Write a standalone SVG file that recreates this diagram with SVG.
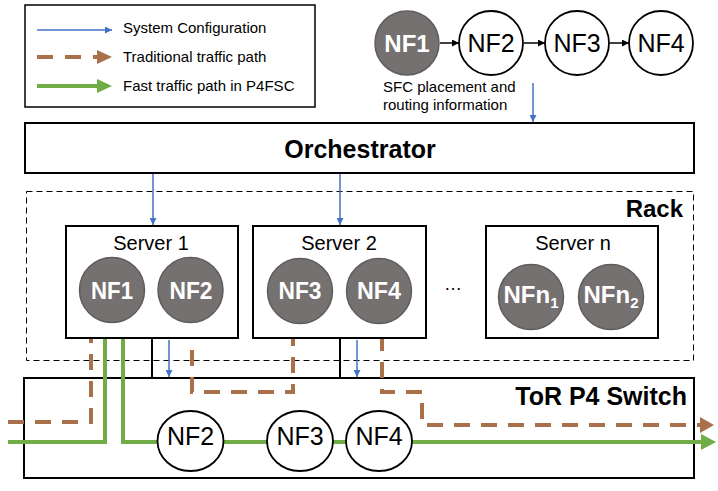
<svg xmlns="http://www.w3.org/2000/svg" width="718" height="491" viewBox="0 0 718 491">
<style>
text{font-family:"Liberation Sans",Arial,sans-serif;}
.box{fill:#fff;stroke:#000;stroke-width:2;}
.wc{fill:#fff;stroke:#000;stroke-width:1.8;}
.gc{fill:#767171;stroke:#5f5c5c;stroke-width:1.5;}
.wt{fill:#fff;font-weight:bold;font-size:24px;text-anchor:middle;}
.bt{fill:#000;font-size:25px;text-anchor:middle;}
.lg{font-size:15px;fill:#000;}
.blue{stroke:#4472C4;stroke-width:1.5;fill:none;marker-end:url(#ab);}
.blk{stroke:#000;stroke-width:1.5;fill:none;marker-end:url(#ak);}
.brown{stroke:#A9714B;stroke-width:4;fill:none;stroke-dasharray:16 11;}
.green{stroke:#70AD47;stroke-width:4;fill:none;}
</style>
<defs>
<marker id="ab" viewBox="0 0 10 10" refX="10" refY="5" markerUnits="userSpaceOnUse" markerWidth="7" markerHeight="7" orient="auto"><path d="M0,0 L10,5 L0,10 z" fill="#4472C4"/></marker>
<marker id="ak" viewBox="0 0 10 10" refX="10" refY="5" markerUnits="userSpaceOnUse" markerWidth="7" markerHeight="7" orient="auto"><path d="M0,0 L10,5 L0,10 z" fill="#000"/></marker>
</defs>

<g id="legend">
<rect x="25" y="5" width="290" height="102" fill="#fff" stroke="#000" stroke-width="1.5"/>
<line x1="37" y1="30" x2="112" y2="30" class="blue"/>
<line x1="37" y1="57" x2="100" y2="57" stroke="#A9714B" stroke-width="4" stroke-dasharray="16 12"/>
<path d="M97,50 L112,57 L97,64 z" fill="#A9714B"/>
<line x1="37" y1="86" x2="100" y2="86" stroke="#70AD47" stroke-width="4"/>
<path d="M97,79 L112,86 L97,93 z" fill="#70AD47"/>
<text class="lg" x="123" y="33">System Configuration</text>
<text class="lg" x="123" y="62">Traditional traffic path</text>
<text class="lg" x="123" y="91">Fast traffic path in P4FSC</text>
</g>

<g id="chain">
<circle cx="407" cy="43" r="32" class="gc"/>
<text x="407" y="52" class="wt" font-size="25">NF1</text>
<circle cx="491" cy="43" r="32" class="wc"/>
<text x="491" y="52" class="bt" font-size="27">NF2</text>
<circle cx="577" cy="43" r="32" class="wc"/>
<text x="577" y="52" class="bt" font-size="27">NF3</text>
<circle cx="661" cy="43" r="32" class="wc"/>
<text x="661" y="52" class="bt" font-size="27">NF4</text>
<line x1="440" y1="43" x2="459" y2="43" class="blk"/>
<line x1="524" y1="43" x2="545" y2="43" class="blk"/>
<line x1="610" y1="43" x2="629" y2="43" class="blk"/>
<text class="lg" x="383" y="92">SFC placement and</text>
<text class="lg" x="383" y="110">routing information</text>
</g>

<g id="orchestrator">
<rect x="25" y="123" width="669" height="50" class="box"/>
<text x="360" y="158" font-size="25" font-weight="bold" text-anchor="middle">Orchestrator</text>
</g>

<g id="rack">
<rect x="26.5" y="191.5" width="667" height="169" fill="none" stroke="#000" stroke-width="1" stroke-dasharray="6 4"/>
<text x="683" y="217" font-size="24" font-weight="bold" text-anchor="end">Rack</text>
<text x="453" y="290" font-size="18" text-anchor="middle">…</text>
</g>

<g id="switch">
<rect x="24" y="378" width="670" height="100" class="box"/>
<text x="687" y="405" font-size="25" font-weight="bold" text-anchor="end">ToR P4 Switch</text>
</g>

<g id="connectors">
<line x1="152" y1="338" x2="152" y2="378" stroke="#000" stroke-width="2"/>
<line x1="340" y1="338" x2="340" y2="378" stroke="#000" stroke-width="2"/>
<line x1="533" y1="83" x2="533" y2="122" class="blue"/>
<line x1="153" y1="174" x2="153" y2="225" class="blue"/>
<line x1="340" y1="174" x2="340" y2="225" class="blue"/>
<line x1="169" y1="340" x2="169" y2="377" class="blue"/>
<line x1="357" y1="340" x2="357" y2="377" class="blue"/>
<path d="M8,422 H91 V322" class="brown"/>
<line x1="145" y1="297" x2="157" y2="297" stroke="#A9714B" stroke-width="4"/>
<path d="M192,323 V392 H293 V324" class="brown"/>
<line x1="333" y1="297" x2="346" y2="297" stroke="#A9714B" stroke-width="4"/>
<path d="M382,335 V392 H422 V425 H700" class="brown"/>
<path d="M700,417 L714,425 L700,433 z" fill="#A9714B"/>
<path d="M8,442 H105 V322" class="green"/>
<path d="M123,322 V442 H702" class="green"/>
<path d="M701,434 L716,442 L701,450 z" fill="#70AD47"/>
</g>

<g id="server1">
<rect x="66" y="226" width="172" height="112" class="box"/>
<text x="151" y="250" font-size="20" text-anchor="middle">Server 1</text>
</g>
<g id="s1-nf1"><circle cx="112" cy="290" r="32.5" class="gc"/><text x="112" y="299" class="wt" textLength="42" lengthAdjust="spacingAndGlyphs">NF1</text></g>
<g id="s1-nf2"><circle cx="190.5" cy="290" r="32.5" class="gc"/><text x="191" y="299" class="wt" textLength="43" lengthAdjust="spacingAndGlyphs">NF2</text></g>

<g id="server2">
<rect x="253" y="226" width="173" height="112" class="box"/>
<text x="339" y="250" font-size="20" text-anchor="middle">Server 2</text>
</g>
<g id="s2-nf3"><circle cx="300" cy="291" r="32.5" class="gc"/><text x="300" y="299" class="wt" textLength="43" lengthAdjust="spacingAndGlyphs">NF3</text></g>
<g id="s2-nf4"><circle cx="379" cy="291" r="32.5" class="gc"/><text x="379" y="299" class="wt" textLength="44" lengthAdjust="spacingAndGlyphs">NF4</text></g>

<g id="servern">
<rect x="486" y="226" width="172" height="112" class="box"/>
<text x="573" y="250" font-size="20" text-anchor="middle">Server n</text>
</g>
<g id="sn-nfn1"><circle cx="531" cy="297" r="32.5" class="gc"/><text x="531" y="303" class="wt" font-size="23">NFn<tspan font-size="15" dy="5">1</tspan></text></g>
<g id="sn-nfn2"><circle cx="611" cy="297" r="32.5" class="gc"/><text x="611" y="303" class="wt" font-size="23">NFn<tspan font-size="15" dy="5">2</tspan></text></g>

<g id="sw-nf2"><ellipse cx="190.5" cy="441" rx="33" ry="30" class="wc"/><text x="190.5" y="445" class="bt">NF2</text></g>
<g id="sw-nf3"><ellipse cx="300" cy="441" rx="33" ry="30" class="wc"/><text x="300" y="445" class="bt">NF3</text></g>
<g id="sw-nf4"><ellipse cx="379" cy="441" rx="33" ry="30" class="wc"/><text x="379" y="445" class="bt">NF4</text></g>
</svg>
